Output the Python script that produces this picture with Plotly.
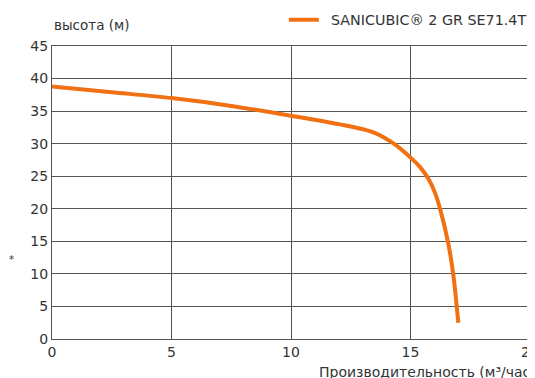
import plotly.graph_objects as go

flow = [0, 2.5, 5, 7.5, 10, 12, 13.4, 14.3, 15.05, 15.4, 15.75, 16.03, 16.25, 16.58, 16.8, 17.0]
head = [38.8, 37.9, 37.0, 35.8, 34.3, 33.0, 31.8, 30.0, 27.7, 26.4, 24.6, 22.4, 19.8, 14.7, 9.6, 2.5]
series_name = "SANICUBIC® 2 GR SE71.4T"
x_ticks = [0, 5, 10, 15, 20]
y_ticks = [0, 5, 10, 15, 20, 25, 30, 35, 40, 45]

FONT = "DejaVu Sans"
grid = "#555555"
txt = "#333333"

fig = go.Figure()
fig.add_trace(go.Scatter(x=flow, y=head, mode="lines", name="\u2002" + series_name,
                         line=dict(color="#F07012", width=4, shape="spline", smoothing=0.8)))

fig.update_layout(
    width=527, height=370,
    margin=dict(l=44, r=5, t=38, b=39, autoexpand=False),
    paper_bgcolor="white", plot_bgcolor="white",
    font=dict(family=FONT, color=txt, size=14),
    showlegend=True,
    legend=dict(orientation="h", x=0.485, xanchor="left", y=1.089, yanchor="middle",
                font=dict(size=14.3, color=txt), bgcolor="rgba(0,0,0,0)", itemwidth=30),
    xaxis=dict(range=[0, 20], tickvals=x_ticks, showgrid=True, gridcolor=grid, gridwidth=1,
               zeroline=False, showline=True, linecolor=grid, linewidth=1, mirror=True,
               ticks="", tickfont=dict(size=14, color=txt), fixedrange=True, automargin=False,
               ticklabeloverflow="allow"),
    yaxis=dict(range=[0, 45], tickvals=y_ticks, showgrid=True, gridcolor=grid, gridwidth=1,
               zeroline=False, showline=True, linecolor=grid, linewidth=1, mirror=True,
               ticks="", tickfont=dict(size=14, color=txt), fixedrange=True, automargin=False),
    annotations=[
        dict(text="высота (м)", xref="paper", yref="paper", x=0, y=1.0, yshift=21,
             xanchor="left", yanchor="middle", showarrow=False, font=dict(size=13.5, color=txt)),
        dict(text="Производительность (м³/час)", xref="paper", yref="paper", x=1.0, xshift=8,
             y=0, yshift=-33, xanchor="right", yanchor="middle", showarrow=False,
             font=dict(size=14, color=txt)),
        dict(text="*", xref="paper", yref="paper", x=0, xshift=-45, y=0.27,
             xanchor="left", yanchor="middle", showarrow=False, font=dict(size=10, color=txt)),
    ],
)

fig.write_html("out.html")
